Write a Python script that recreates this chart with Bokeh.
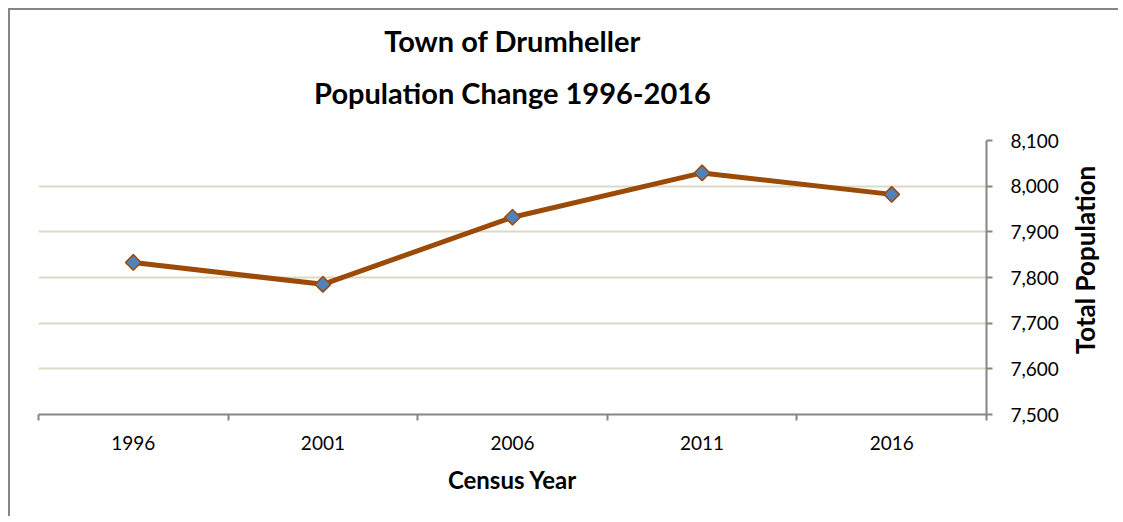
import math
from bokeh.plotting import figure
from bokeh.models import (Title, FixedTicker, NumeralTickFormatter, Range1d, LinearAxis)
from bokeh.embed import file_html
from bokeh.resources import INLINE

years = ["1996", "2001", "2006", "2011", "2016"]
population = [7833, 7785, 7932, 8029, 7982]
y_ticks = [7500, 7600, 7700, 7800, 7900, 8000, 8100]
title_lines = ["Town of Drumheller", "Population Change 1996-2016"]
x_title = "Census Year"
y_title = "Total Population"

FONT = "Lato"
xs = [i + 0.5 for i in range(len(years))]

p = figure(width=1110, height=508, output_backend="svg", toolbar_location=None,
           x_range=Range1d(0, len(years)), y_range=Range1d(y_ticks[0], y_ticks[-1]),
           y_axis_location="right", title=None,
           min_border_left=28, min_border_right=129, min_border_top=130, min_border_bottom=104)
p.styles = {"border-left": "2px solid #868686", "border-top": "2px solid #868686",
            "margin-left": "8px", "margin-top": "8px"}
p.outline_line_color = None
p.background_fill_color = "white"

# two centred title lines (first added sits nearest the plot)
p.add_layout(Title(text=title_lines[1], align="center", text_font=FONT,
                   text_font_size="29px", text_font_style="bold", text_color="black",
                   standoff=62), "above")
p.add_layout(Title(text=title_lines[0], align="center", text_font=FONT,
                   text_font_size="29px", text_font_style="bold", text_color="black",
                   standoff=-33), "above")

# x axis
xa = p.xaxis[0]
xa.ticker = FixedTicker(ticks=xs, minor_ticks=list(range(len(years) + 1)))
xa.major_label_overrides = {x: y for x, y in zip(xs, years)}
xa.major_tick_line_color = None
xa.minor_tick_line_color = "#868686"
xa.minor_tick_line_width = 2
xa.minor_tick_in = 0
xa.minor_tick_out = 6
xa.axis_line_color = "#868686"
xa.axis_line_width = 2
xa.major_label_text_font = FONT
xa.major_label_text_font_size = "19px"
xa.major_label_text_color = "black"
xa.major_label_standoff = 15
xa.axis_label = x_title
xa.axis_label_text_font = FONT
xa.axis_label_text_font_size = "24px"
xa.axis_label_text_font_style = "bold"
xa.axis_label_text_color = "black"
xa.axis_label_standoff = 12

# y axis
ya = p.yaxis[0]
ya.ticker = FixedTicker(ticks=y_ticks)
ya.formatter = NumeralTickFormatter(format="0,0")
ya.axis_line_color = "#868686"
ya.axis_line_width = 2
ya.major_tick_line_color = "#868686"
ya.major_tick_line_width = 2
ya.major_tick_in = 0
ya.major_tick_out = 6
ya.minor_tick_line_color = None
ya.major_label_text_font = FONT
ya.major_label_text_font_size = "19px"
ya.major_label_text_color = "black"
ya.major_label_standoff = 18

# y-axis title drawn as a rotated label on an extra right-hand axis
# (rotated labels start at their tick, so the tick sits where the text begins)
p.extra_y_ranges = {"ytitle": Range1d(0, 1)}
ta = LinearAxis(y_range_name="ytitle", ticker=FixedTicker(ticks=[0.22]),
                major_label_overrides={0.22: y_title},
                major_label_orientation=math.pi / 2,
                major_label_text_font=FONT, major_label_text_font_size="26px",
                major_label_text_font_style="bold", major_label_text_color="black",
                major_label_standoff=24, axis_line_color=None,
                major_tick_line_color=None, minor_tick_line_color=None,
                major_tick_in=0, major_tick_out=0)
p.add_layout(ta, "right")

p.xgrid.grid_line_color = None
p.ygrid.ticker = FixedTicker(ticks=y_ticks[1:])
p.ygrid.grid_line_color = "#DDD9C3"
p.ygrid.grid_line_width = 2

p.line(xs, population, line_color="#9C4A08", line_width=5)
p.scatter(xs, population, marker="square", angle=math.pi / 4, size=11,
          fill_color="#4F81BD", line_color="#9C4A08", line_width=1.5)

open("out.html", "w").write(file_html(p, INLINE))
